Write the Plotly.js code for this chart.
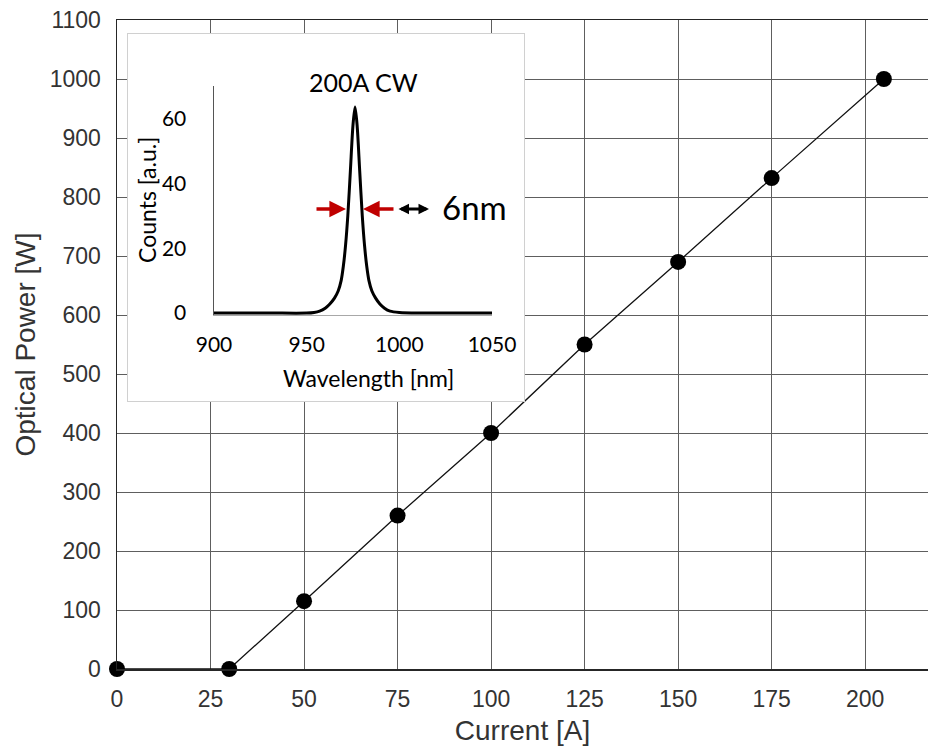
<!DOCTYPE html>
<html>
<head>
<meta charset="utf-8">
<script src="https://cdn.plot.ly/plotly-3.0.1.min.js"></script>
<style>
  html, body { margin: 0; padding: 0; background: #ffffff; }
  #chart { width: 928px; height: 746px; }
</style>
</head>
<body>
<div id="chart"></div>
<script>
// ---- Main chart data (Optical power vs current) ----
const currentA = [0, 30, 50, 75, 100, 125, 150, 175, 205];
const opticalPowerW = [0, 0, 115, 260, 400, 550, 690, 832, 1000];
const mainXTicks = [0, 25, 50, 75, 100, 125, 150, 175, 200];
const mainYTicks = [0, 100, 200, 300, 400, 500, 600, 700, 800, 900, 1000, 1100];

// ---- Inset spectrum data (200A CW) ----
const wavelengthNm = [900, 930, 950, 954, 957, 960, 962.5, 965, 967, 968.6, 969.8, 971, 972.2, 973.6, 975, 976.1,
                      977.2, 978.6, 980.0, 981.2, 982.4, 983.6, 985.2, 987.2, 989.5, 992, 995, 1000, 1010, 1030, 1050];
const countsAU = [0, 0, 0, 0.2, 0.6, 1.5, 2.8, 4.6, 6.8, 10, 14.5, 21, 30, 44, 58, 63.5,
                  58, 44, 30, 21, 14.5, 10, 6.8, 4.6, 2.8, 1.5, 0.6, 0.2, 0, 0, 0];
const insetXTicks = [900, 950, 1000, 1050];
const insetYTicks = [0, 20, 40, 60];

// ---- geometry helpers (pixel -> paper) ----
const W = 928, H = 746, ML = 117, MR = 0, MT = 20, MB = 77;
const PW = W - ML - MR, PH = H - MT - MB;
const px = v => (v - ML) / PW;
const py = v => (H - MB - v) / PH;

const axisFont = {family: 'Liberation Sans, Arial, sans-serif', size: 23, color: '#333333'};
const titleFont = {family: 'Liberation Sans, Arial, sans-serif', size: 28, color: '#333333'};
const insetFont = {family: 'Lato, "Open Sans", sans-serif', size: 21, color: '#000000'};

const traces = [
  {
    x: currentA, y: opticalPowerW, xaxis: 'x', yaxis: 'y',
    type: 'scatter', mode: 'lines+markers',
    line: {color: '#111111', width: 1.3},
    marker: {color: '#000000', size: 16},
    cliponaxis: false, hoverinfo: 'skip'
  },
  { // inset frame subplot (white box)
    x: [], y: [], xaxis: 'x2', yaxis: 'y2', type: 'scatter', mode: 'lines', hoverinfo: 'skip'
  },
  {
    x: wavelengthNm, y: countsAU, xaxis: 'x3', yaxis: 'y3',
    type: 'scatter', mode: 'lines',
    line: {color: '#000000', width: 3, shape: 'spline', smoothing: 0.8},
    hoverinfo: 'skip'
  }
];

const layout = {
  width: W, height: H,
  margin: {l: ML, r: MR, t: MT, b: MB, pad: 0},
  paper_bgcolor: '#ffffff', plot_bgcolor: '#ffffff',
  showlegend: false,
  xaxis: {
    domain: [0, 1], anchor: 'y',
    range: [0, 216.8], tickvals: mainXTicks, ticktext: mainXTicks.map(String),
    showgrid: true, gridcolor: '#5e5e5e', gridwidth: 1,
    zeroline: false, showline: true, linecolor: '#262626', linewidth: 1.5, mirror: true,
    ticks: '', tickfont: axisFont, ticklabelstandoff: 9,
    title: {text: 'Current [A]', font: titleFont, standoff: 12},
    automargin: false
  },
  yaxis: {
    domain: [0, 1], anchor: 'x',
    range: [0, 1100], tickvals: mainYTicks, ticktext: mainYTicks.map(String),
    showgrid: true, gridcolor: '#5e5e5e', gridwidth: 1,
    zeroline: false, showline: true, linecolor: '#262626', linewidth: 1.5, mirror: false,
    ticks: '', tickfont: axisFont, ticklabelstandoff: 10,
    title: {text: 'Optical Power [W]', font: titleFont, standoff: 6},
    automargin: false
  },
  xaxis2: {
    domain: [px(128), px(524)], anchor: 'y2', range: [0, 1],
    showgrid: false, zeroline: false, showticklabels: false, ticks: '',
    showline: true, mirror: true, linecolor: '#d0d0d0', linewidth: 1, fixedrange: true
  },
  yaxis2: {
    domain: [py(401), py(34)], anchor: 'x2', range: [0, 1],
    showgrid: false, zeroline: false, showticklabels: false, ticks: '',
    showline: true, mirror: true, linecolor: '#d0d0d0', linewidth: 1, fixedrange: true
  },
  xaxis3: {
    domain: [px(214), px(492)], anchor: 'y3', range: [900, 1050],
    tickvals: insetXTicks, ticktext: insetXTicks.map(String),
    showgrid: false, zeroline: false, ticks: '',
    showline: true, linecolor: '#a8a8a8', linewidth: 1,
    tickfont: insetFont, ticklabelstandoff: 11
  },
  yaxis3: {
    domain: [py(315), py(86)], anchor: 'x3', range: [-0.6, 70],
    tickvals: insetYTicks, ticktext: insetYTicks.map(String),
    showgrid: false, zeroline: false, ticks: '',
    showline: true, linecolor: '#555555', linewidth: 1.5,
    tickfont: insetFont, ticklabelstandoff: 22
  },
  annotations: [
    {text: '200A CW', xref: 'paper', yref: 'paper', x: px(363), y: py(82),
     xanchor: 'center', yanchor: 'middle', showarrow: false,
     font: {family: 'Lato, "Open Sans", sans-serif', size: 25, color: '#000000'}},
    {text: 'Wavelength [nm]', xref: 'paper', yref: 'paper', x: px(368), y: py(378),
     xanchor: 'center', yanchor: 'middle', showarrow: false,
     font: {family: 'Lato, "Open Sans", sans-serif', size: 23, color: '#000000'}},
    {text: 'Counts [a.u.]', xref: 'paper', yref: 'paper', x: px(147), y: py(200),
     xanchor: 'center', yanchor: 'middle', showarrow: false, textangle: -90,
     font: {family: 'Lato, "Open Sans", sans-serif', size: 23, color: '#000000'}},
    {text: '6nm', xref: 'paper', yref: 'paper', x: px(474), y: py(207),
     xanchor: 'center', yanchor: 'middle', showarrow: false,
     font: {family: 'Lato, "Open Sans", sans-serif', size: 33, color: '#000000'}},
    // red FWHM arrows
    {text: '', xref: 'paper', yref: 'paper', x: px(346), y: py(209), axref: 'pixel', ayref: 'pixel',
     ax: -31, ay: 0, showarrow: true, arrowhead: 2, arrowsize: 0.95, arrowwidth: 3.5,
     arrowcolor: '#c00000', standoff: 0, startstandoff: 0},
    {text: '', xref: 'paper', yref: 'paper', x: px(363), y: py(209), axref: 'pixel', ayref: 'pixel',
     ax: 32, ay: 0, showarrow: true, arrowhead: 2, arrowsize: 0.95, arrowwidth: 3.5,
     arrowcolor: '#c00000', standoff: 0, startstandoff: 0},
    // black double arrow
    {text: '', xref: 'paper', yref: 'paper', x: px(429), y: py(209), axref: 'pixel', ayref: 'pixel',
     ax: -32, ay: 0, showarrow: true, arrowside: 'end+start', arrowhead: 2, startarrowhead: 2,
     arrowsize: 0.7, startarrowsize: 0.7, arrowwidth: 3,
     arrowcolor: '#000000', standoff: 0, startstandoff: 0}
  ]
};

Plotly.newPlot('chart', traces, layout, {staticPlot: true, displayModeBar: false});
</script>
</body>
</html>
